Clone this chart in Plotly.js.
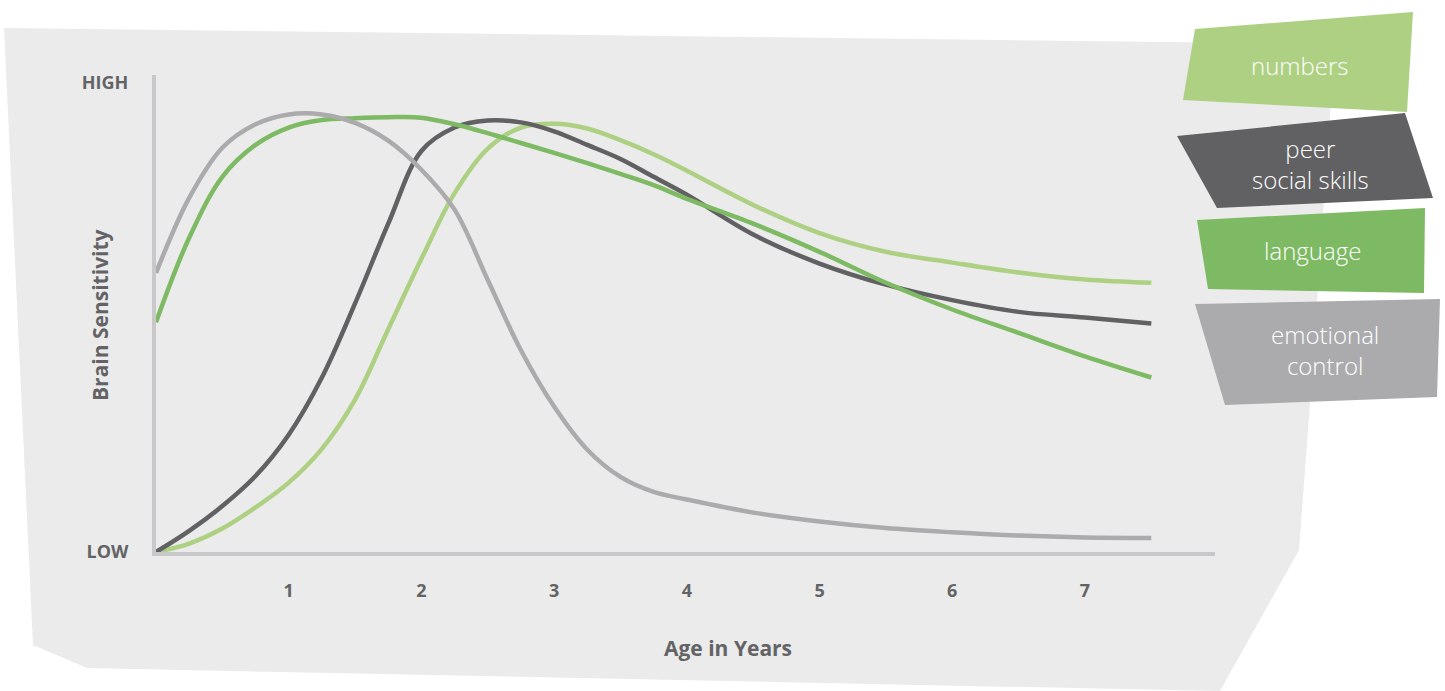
<!DOCTYPE html>
<html>
<head>
<meta charset="utf-8">
<script src="https://cdn.plot.ly/plotly-3.0.1.min.js"></script>
<style>
html,body{margin:0;padding:0;background:#ffffff;}
#chart{width:1445px;height:691px;}
</style>
</head>
<body>
<div id="chart"></div>
<script>
// ---- data (age in years vs. relative brain sensitivity, LOW=0 .. HIGH=1) ----
const ageYears = [0, 0.25, 0.5, 0.75, 1, 1.25, 1.5, 1.75, 2, 2.25, 2.5, 2.75, 3, 3.25, 3.5, 3.75, 4, 4.5, 5, 5.5, 6, 6.5, 7, 7.5];
const numbersVals   = [0.00, 0.018, 0.050, 0.095, 0.148, 0.220, 0.325, 0.475, 0.625, 0.765, 0.860, 0.905, 0.913, 0.903, 0.878, 0.848, 0.813, 0.740, 0.680, 0.640, 0.617, 0.596, 0.581, 0.574];
const peerVals      = [0.00, 0.045, 0.098, 0.162, 0.250, 0.372, 0.530, 0.700, 0.855, 0.905, 0.920, 0.916, 0.897, 0.868, 0.838, 0.800, 0.762, 0.677, 0.615, 0.570, 0.537, 0.512, 0.500, 0.487];
const languageVals  = [0.49, 0.670, 0.800, 0.868, 0.905, 0.921, 0.925, 0.927, 0.926, 0.912, 0.893, 0.872, 0.851, 0.829, 0.806, 0.782, 0.753, 0.700, 0.640, 0.574, 0.517, 0.467, 0.417, 0.372];
const emotionalVals = [0.595, 0.755, 0.862, 0.912, 0.933, 0.933, 0.915, 0.877, 0.815, 0.730, 0.580, 0.430, 0.310, 0.218, 0.160, 0.128, 0.112, 0.084, 0.065, 0.051, 0.042, 0.035, 0.031, 0.030];

const seriesNames = ["numbers", "peer<br>social skills", "language", "emotional<br>control"];
const seriesColors = ["#AED083", "#616163", "#7DBA63", "#ABABAE"];
const xTickVals = [1, 2, 3, 4, 5, 6, 7];
const xTickText = ["1", "2", "3", "4", "5", "6", "7"];
const yTickVals = [0, 1];
const yTickText = ["LOW", "HIGH"];
const xTitle = "Age in Years";
const yTitle = "Brain Sensitivity";

// ---- layout geometry (pixels) ----
const W = 1445, H = 691;
const M = {l: 156, r: 230, t: 75, b: 139};
const PW = W - M.l - M.r, PH = H - M.t - M.b;
function px(x){ return ((x - M.l) / PW).toFixed(5); }
function py(y){ return ((H - M.b - y) / PH).toFixed(5); }
function poly(pts){
  return pts.map((p, i) => (i ? "L" : "M") + px(p[0]) + "," + py(p[1])).join(" ") + " Z";
}

const FAM = "'Open Sans', Lato, sans-serif";
const labelFont = {family: FAM, size: 21, color: "#636366", weight: 700};
const tickFont = {family: FAM, size: 18, color: "#636366", weight: 700};
const legendFont = {family: FAM, size: 24, color: "#ffffff", weight: 300};

const allVals = [numbersVals, peerVals, languageVals, emotionalVals];
const drawOrder = [0, 1, 2, 3];
const traces = drawOrder.map(i => ({
  x: ageYears,
  y: allVals[i],
  type: "scatter",
  mode: "lines",
  name: seriesNames[i].replace("<br>", " "),
  line: {color: seriesColors[i], width: 4.5, shape: "spline", smoothing: 1},
  cliponaxis: false,
  hoverinfo: "skip"
}));

// legend boxes (slanted cards) and their texts
const legendBoxes = [
  [[1195, 29], [1413, 12], [1407, 112], [1183, 100]],
  [[1177, 136], [1405, 113], [1433, 198], [1217, 208]],
  [[1197, 220], [1425, 208], [1424, 293], [1208, 289]],
  [[1195, 304], [1440, 299], [1437, 397], [1225, 405]]
];
const legendTextPos = [[1300, 66], [1310, 164], [1313, 251], [1325, 350]];

const shapes = [
  {type: "path", xref: "paper", yref: "paper", layer: "below",
   path: poly([[4, 28], [1335, 44], [1310, 403], [1299, 550], [1220, 691], [87, 668], [33, 645]]),
   fillcolor: "#EBEBEB", line: {width: 0}}
];
legendBoxes.forEach((b, i) => shapes.push({
  type: "path", xref: "paper", yref: "paper", layer: "above",
  path: poly(b), fillcolor: seriesColors[i], line: {width: 0}
}));

const annotations = legendTextPos.map((p, i) => ({
  xref: "paper", yref: "paper", x: +px(p[0]), y: +py(p[1]),
  text: seriesNames[i], showarrow: false, font: legendFont,
  xanchor: "center", yanchor: "middle", align: "center"
}));
annotations.push({
  xref: "paper", yref: "paper", x: +px(728), y: +py(648),
  text: xTitle, showarrow: false, font: labelFont, xanchor: "center", yanchor: "middle"
});
annotations.push({
  xref: "paper", yref: "paper", x: +px(100), y: +py(315),
  text: yTitle, showarrow: false, font: labelFont, textangle: -90, xanchor: "center", yanchor: "middle"
});

const layout = {
  width: W, height: H,
  margin: M,
  paper_bgcolor: "#ffffff",
  plot_bgcolor: "rgba(0,0,0,0)",
  showlegend: false,
  xaxis: {
    range: [0, 7.98], showgrid: false, zeroline: false,
    showline: true, linecolor: "#C8C8CB", linewidth: 4,
    tickvals: xTickVals, ticktext: xTickText, ticks: "",
    ticklabelstandoff: 19, tickfont: tickFont,
    fixedrange: true
  },
  yaxis: {
    range: [0, 1.017], showgrid: false, zeroline: false,
    showline: true, linecolor: "#C8C8CB", linewidth: 4,
    tickvals: yTickVals, ticktext: yTickText, ticks: "",
    ticklabelstandoff: 20, tickfont: tickFont,
    fixedrange: true
  },
  shapes: shapes,
  annotations: annotations
};

Plotly.newPlot("chart", traces, layout, {displayModeBar: false, staticPlot: true});
</script>
</body>
</html>
